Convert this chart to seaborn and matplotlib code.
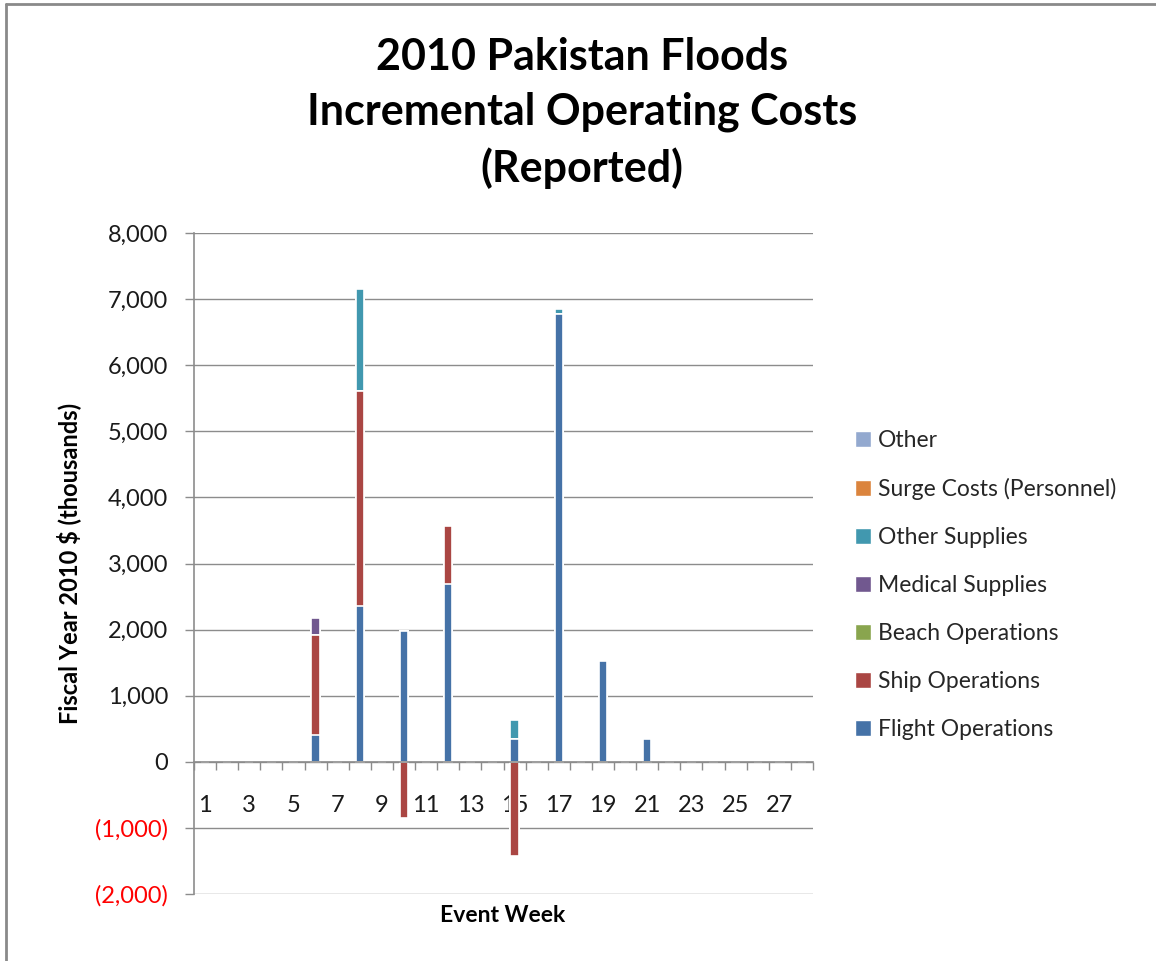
import numpy as np
import pandas as pd
import matplotlib.pyplot as plt
import seaborn as sns
from matplotlib.patches import Patch
from matplotlib.lines import Line2D

weeks = list(range(1, 29))
series_names = ['Flight Operations', 'Ship Operations', 'Beach Operations',
                'Medical Supplies', 'Other Supplies', 'Surge Costs (Personnel)', 'Other']
colors = ['#4572A7', '#AA4643', '#89A54E', '#71588F', '#4198AF', '#DB843D', '#93A9CF']

# values in thousands of FY2010 $, by event week (only non-zero weeks listed)
flight_ops = {6: 400, 8: 2360, 10: 1980, 12: 2690, 15: 340, 17: 6780, 19: 1520, 21: 340, 27: 10}
ship_ops = {6: 1520, 8: 3250, 10: -850, 12: 870, 15: -1420}
beach_ops = {}
medical_supplies = {6: 260}
other_supplies = {8: 1550, 15: 290, 17: 70}
surge_costs = {}
other = {}

series_values = [flight_ops, ship_ops, beach_ops, medical_supplies,
                 other_supplies, surge_costs, other]

df = pd.DataFrame({'week': [str(w) for w in weeks]})
for name, vals in zip(series_names, series_values):
    df[name] = [vals.get(w, 0) for w in weeks]

# Excel-style stacking: positives stack upward, negatives downward
pos = df[series_names].clip(lower=0).cumsum(axis=1)
neg = df[series_names].clip(upper=0).cumsum(axis=1)

sns.set_style('white')
plt.rcParams['font.family'] = ['Lato', 'DejaVu Sans']

fig = plt.figure(figsize=(11.56, 9.61), dpi=100)
ax = fig.add_axes([194 / 1156, 1 - 894 / 961, (813 - 194) / 1156, (894 - 233) / 961])

order = [str(w) for w in weeks]
# draw cumulative tops from the highest layer down so each layer shows its segment
for i in range(len(series_names) - 1, -1, -1):
    for cum in (pos, neg):
        d = pd.DataFrame({'week': df['week'], 'val': cum.iloc[:, i]})
        sns.barplot(data=d, x='week', y='val', order=order, color=colors[i],
                    saturation=1, width=0.38, edgecolor='white', linewidth=1.2,
                    ax=ax, zorder=2)

ax.set_ylim(-2000, 8000)
ax.set_xlim(-0.5, len(weeks) - 0.5)
ax.set_yticks(np.arange(-2000, 8001, 1000))
ax.set_yticklabels([f'({abs(v):,})' if v < 0 else f'{v:,}' for v in range(-2000, 8001, 1000)])
for lbl, v in zip(ax.get_yticklabels(), range(-2000, 8001, 1000)):
    lbl.set_color('#FF0000' if v < 0 else '#1A1A1A')

grid_c = '#8C8C8C'
ax.set_axisbelow(True)
ax.grid(axis='y', color=grid_c, linewidth=1.0)
ax.grid(axis='x', visible=False)
for s in ['top', 'right']:
    ax.spines[s].set_visible(False)
ax.spines['left'].set_color(grid_c)
ax.spines['left'].set_linewidth(1.2)
ax.spines['bottom'].set_position(('data', 0))
ax.spines['bottom'].set_color(grid_c)
ax.spines['bottom'].set_linewidth(1.2)
ax.spines['bottom'].set_zorder(3)

ax.tick_params(axis='y', direction='out', length=6.5, width=1.0, color=grid_c,
               labelsize=17, pad=12, left=True)
# ticks between categories, labels on every other week
ax.set_xticks(np.arange(-0.5, len(weeks), 1))
ax.set_xticklabels([])
ax.set_xticks(np.arange(0, len(weeks), 2), minor=True)
ax.set_xticklabels([str(w) for w in weeks[::2]], minor=True)
ax.tick_params(axis='x', which='major', direction='out', length=6, width=1.0,
               color=grid_c, bottom=True)
ax.tick_params(axis='x', which='minor', length=0, labelsize=17, pad=24,
               labelcolor='#1A1A1A')

ax.set_xlabel('')
ax.set_ylabel('Fiscal Year 2010 $ (thousands)', fontsize=17, fontweight='bold',
              labelpad=10, color='black')
fig.text(503 / 1156, 1 - 916 / 961, 'Event Week', ha='center', va='center',
         fontsize=16.5, fontweight='bold', color='black')

fig.text(582 / 1156, 1 - 113 / 961,
         '2010 Pakistan Floods\nIncremental Operating Costs\n(Reported)',
         ha='center', va='center', fontsize=31, fontweight='bold',
         linespacing=1.45, color='black')

handles = [Patch(facecolor=c, edgecolor='white', label=n)
           for n, c in zip(series_names, colors)][::-1]
fig.legend(handles=handles, loc='center left', bbox_to_anchor=(846 / 1156, 1 - 585 / 961),
           frameon=False, fontsize=16.5, handlelength=0.7, handleheight=0.7,
           handletextpad=0.3, labelspacing=1.18, borderaxespad=0)

# chart border (left and top edges visible)
fig.add_artist(Line2D([6 / 1156, 6 / 1156], [0, 1 - 4 / 961], transform=fig.transFigure,
                      color='#8A8A8A', linewidth=2))
fig.add_artist(Line2D([6 / 1156, 1], [1 - 4 / 961, 1 - 4 / 961], transform=fig.transFigure,
                      color='#8A8A8A', linewidth=2))

fig.savefig('out.png', dpi=100)
